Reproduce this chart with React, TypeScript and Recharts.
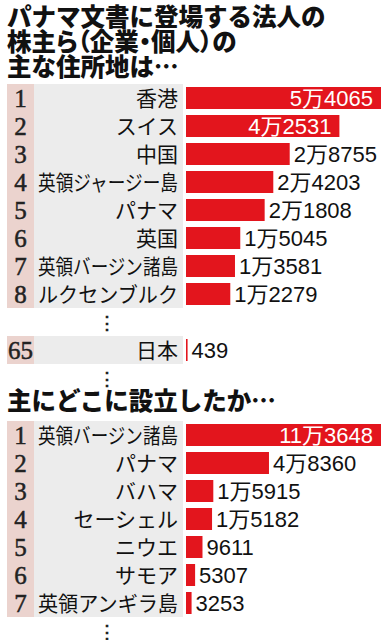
import React from "react";
import { BarChart, Bar, XAxis, YAxis, LabelList } from "recharts";

// 株主らの主な住所地
const residenceRanks = ["1", "2", "3", "4", "5", "6", "7", "8"];
const residenceNames = ["香港", "スイス", "中国", "英領ジャージー島", "パナマ", "英国", "英領バージン諸島", "ルクセンブルク"];
const residenceCounts = [54065, 42531, 28755, 24203, 21808, 15045, 13581, 12279];
const japanRank = "65";
const japanName = "日本";
const japanCount = 439;

// 主にどこに設立したか
const incorporationRanks = ["1", "2", "3", "4", "5", "6", "7"];
const incorporationNames = ["英領バージン諸島", "パナマ", "バハマ", "セーシェル", "ニウエ", "サモア", "英領アンギラ島"];
const incorporationCounts = [113648, 48360, 15915, 15182, 9611, 5307, 3253];

const titleLines = ["パナマ文書に登場する法人の", "株主ら（企業・個人）の", "主な住所地は…"];
const subTitle = "主にどこに設立したか…";

type Row = { key: string; rank?: string; name?: string; value: number | null; gap?: boolean };

const W = 387;
const ROW = 28;
const RED = "#e3151d";
const RANK_BG = "#ebd3ce";
const GREY = "#ececec";
const JP = "'Noto Sans CJK JP', sans-serif";
const NUM = "'Liberation Sans', 'Noto Sans CJK JP', sans-serif";
const LABEL_MAX = 140; // long names are squeezed to fit the grey column

const residenceRows: Row[] = [
  ...residenceNames.map((n, i) => ({ key: "r" + i, rank: residenceRanks[i], name: n, value: residenceCounts[i] })),
  { key: "gap1", value: null, gap: true },
  { key: "jp", rank: japanRank, name: japanName, value: japanCount },
  { key: "gap2", value: null, gap: true },
];

const incorporationRows: Row[] = [
  ...incorporationNames.map((n, i) => ({ key: "c" + i, rank: incorporationRanks[i], name: n, value: incorporationCounts[i] })),
  { key: "gap3", value: null, gap: true },
];

function fmt(v: number) {
  if (v < 10000) return String(v);
  return `${Math.floor(v / 10000)}万${String(v % 10000).padStart(4, "0")}`;
}

const makeTick = (rows: Row[]) => (props: any) => {
  const { y, payload } = props;
  const row = rows[payload.index];
  if (!row) return null;
  if (row.gap) {
    return (
      <text x={107} y={y + 7} textAnchor="middle" fontFamily={JP} fontSize={18} fontWeight={700} fill="#222">
        ⋮
      </text>
    );
  }
  const top = y - ROW / 2;
  const squeeze = (row.name || "").length * 21 > LABEL_MAX;
  return (
    <g>
      <rect x={7} y={top} width={27} height={ROW} fill={RANK_BG} />
      <rect x={34} y={top} width={149} height={ROW} fill={GREY} />
      <text x={20.5} y={y + 9} textAnchor="middle" fontFamily="'Liberation Serif', serif" fontSize={25}
        fill="#222" stroke="#222" strokeWidth={0.5}>
        {row.rank}
      </text>
      <text
        x={178}
        y={y + 7.5}
        textAnchor="end"
        fontFamily={JP}
        fontSize={21}
        fill="#111"
        {...(squeeze ? { textLength: LABEL_MAX, lengthAdjust: "spacingAndGlyphs" } : {})}
      >
        {row.name}
      </text>
    </g>
  );
};

const ValueLabel = (props: any) => {
  const { x, y, width, height, value } = props;
  if (value == null) return null;
  const inside = width > 120;
  return (
    <text
      x={inside ? x + width - 8 : x + width + 4}
      y={y + height / 2 + 8}
      textAnchor={inside ? "end" : "start"}
      fontFamily={NUM}
      fontSize={22}
      fill={inside ? "#fff" : "#111"}
    >
      {fmt(value)}
    </text>
  );
};

function RankChart({ rows, max, height }: { rows: Row[]; max: number; height: number }) {
  return (
    <BarChart width={W} height={height} data={rows} layout="vertical" margin={{ top: 0, right: 6, bottom: 0, left: 0 }}>
      <XAxis type="number" hide domain={[0, max]} allowDataOverflow />
      <YAxis type="category" dataKey="key" width={186} axisLine={false} tickLine={false} interval={0} tick={makeTick(rows)} />
      <Bar dataKey="value" fill={RED} barSize={22} isAnimationActive={false}>
        <LabelList dataKey="value" content={ValueLabel} />
      </Bar>
    </BarChart>
  );
}

const titleStyle: React.CSSProperties = {
  position: "absolute",
  left: 7,
  fontFamily: JP,
  fontWeight: 900,
  fontSize: 24.5,
  lineHeight: "25px",
  color: "#111",
  whiteSpace: "nowrap",
};

export default function App() {
  return (
    <div style={{ position: "absolute", left: 0, top: 0, width: W, height: 640, background: "#fff", overflow: "hidden" }}>
      <div style={{ ...titleStyle, top: 3 }}>
        {titleLines.map((t) => (
          // brackets and the middle dot are set half width
          <div key={t} style={/[（）・]/.test(t) ? { fontFeatureSettings: "'palt'" } : undefined}>{t}</div>
        ))}
      </div>
      <div style={{ position: "absolute", left: 0, top: 84 }}>
        <RankChart rows={residenceRows} max={Math.max(...residenceCounts)} height={residenceRows.length * ROW} />
      </div>
      <div style={{ ...titleStyle, top: 387 }}>{subTitle}</div>
      <div style={{ position: "absolute", left: 0, top: 421 }}>
        <RankChart rows={incorporationRows} max={Math.max(...incorporationCounts)} height={incorporationRows.length * ROW} />
      </div>
    </div>
  );
}
